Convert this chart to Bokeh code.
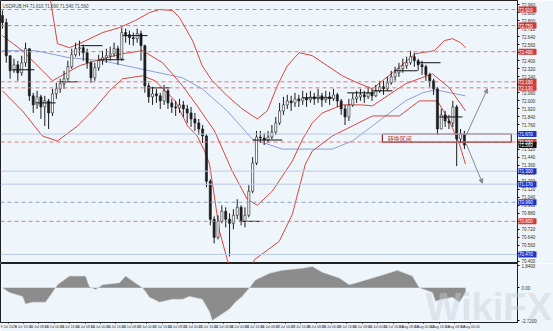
from bokeh.plotting import figure
from bokeh.models import (FixedTicker, Range1d, Span, Label, Arrow, NormalHead, GridBox,
                          ColumnDataSource, NumeralTickFormatter)
from bokeh.embed import file_html
from bokeh.resources import INLINE
from bokeh.core.properties import value

# ---------------- data ----------------
symbol_text = "USDRUB,H4  71.610 71.690 71.540 71.560"
first_open = 72.85
close = [72.78,72.45,72.30,72.36,72.28,72.38,72.52,72.05,71.96,72.04,
         71.94,72.00,71.88,72.07,72.12,72.17,72.22,72.34,72.46,72.52,
         72.53,72.48,72.38,72.23,72.33,72.40,72.43,72.45,72.47,72.52,
         72.42,72.68,72.66,72.63,72.62,72.67,72.55,72.15,72.04,72.07,
         72.05,72.00,72.10,71.98,71.94,71.93,71.96,71.92,71.88,71.82,
         71.78,71.72,71.65,71.20,70.82,70.64,70.80,70.90,70.82,70.78,
         70.86,70.94,70.80,70.86,71.10,71.38,71.64,71.63,71.61,71.64,
         71.69,71.78,71.90,71.96,72.00,71.98,72.02,72.00,72.03,72.01,
         72.04,72.02,72.05,72.01,72.04,72.02,72.06,72.00,71.92,71.84,
         71.96,72.02,72.04,72.06,72.04,72.08,72.05,72.10,72.14,72.12,
         72.18,72.24,72.28,72.32,72.35,72.38,72.44,72.40,72.36,72.34,
         72.26,72.20,72.12,71.72,71.86,71.80,71.78,71.94,71.62,71.67,
         71.56]
high = [72.90,72.82,72.45,72.42,72.40,72.45,72.58,72.52,72.08,72.10,
        72.06,72.05,72.02,72.12,72.18,72.22,72.30,72.40,72.52,72.58,
        72.60,72.56,72.52,72.40,72.38,72.46,72.50,72.52,72.54,72.58,
        72.55,72.73,72.72,72.70,72.68,72.72,72.70,72.56,72.18,72.14,
        72.12,72.08,72.16,72.12,72.02,72.00,72.02,72.00,71.96,71.94,
        71.88,71.82,71.76,71.67,71.22,70.85,70.86,70.96,70.94,70.88,
        70.92,71.02,70.96,70.94,71.16,71.44,71.70,71.70,71.68,71.70,
        71.76,71.84,71.98,72.04,72.06,72.05,72.08,72.06,72.10,72.08,
        72.10,72.08,72.12,72.08,72.10,72.09,72.12,72.08,72.02,71.96,
        72.02,72.08,72.10,72.12,72.10,72.14,72.12,72.16,72.20,72.20,
        72.24,72.30,72.34,72.38,72.42,72.44,72.50,72.48,72.42,72.40,
        72.36,72.28,72.22,72.14,71.92,71.90,71.86,72.00,71.96,71.72,
        71.70]
low = [72.72,72.38,72.22,72.28,72.20,72.25,72.34,72.00,71.88,71.92,
       71.82,71.75,71.72,71.85,72.02,72.08,72.12,72.20,72.32,72.44,
       72.45,72.40,72.32,72.18,72.20,72.30,72.36,72.38,72.40,72.44,
       72.36,72.40,72.58,72.56,72.55,72.58,72.40,72.08,71.98,71.96,
       71.98,71.92,71.96,71.92,71.88,71.85,71.88,71.84,71.78,71.74,
       71.70,71.66,71.58,71.14,70.76,70.58,70.62,70.78,70.74,70.45,
       70.72,70.82,70.76,70.74,70.84,71.08,71.36,71.58,71.56,71.58,
       71.62,71.66,71.76,71.86,71.92,71.90,71.94,71.94,71.96,71.94,
       71.98,71.96,71.98,71.94,71.98,71.96,72.00,71.94,71.86,71.76,
       71.80,71.94,71.98,72.00,71.98,72.02,72.00,72.04,72.08,72.06,
       72.10,72.16,72.20,72.24,72.28,72.32,72.36,72.34,72.30,72.26,
       72.20,72.14,72.06,71.66,71.76,71.74,71.72,71.74,71.35,71.58,
       71.52]

# Bollinger bands (red) and long moving average (blue), sampled at bar positions
upper_x = [0,10.4,12.5,14.3,17.4,20.0,26.0,30.4,34.5,38.2,40.8,44.2,46.0,49.4,51.9,54.5,58.4,
           62.3,66.2,68.8,71.4,74.0,77.1,80.5,84.4,88.3,92.2,96.1,101.3,107.3,112.2,114.8,116.9,119.0,120.3]
upper_y = [73.30,73.10,73.00,72.57,72.53,72.57,72.68,72.73,72.80,72.88,72.91,72.90,72.83,72.60,72.35,72.20,72.05,
           71.92,71.82,71.90,72.15,72.35,72.48,72.45,72.35,72.25,72.18,72.12,72.28,72.47,72.50,72.60,72.62,72.58,72.53]
mid_x = [0,5.2,10.4,13.0,20.0,26.0,31.2,36.4,41.6,46.8,50.6,55.1,59.7,63.6,66.2,70.1,75.3,78.0,80.5,83.1,88.3,
         93.5,96.1,104.7,111.7,116.1,120.3]
mid_y = [72.65,72.50,72.30,72.20,72.35,72.42,72.47,72.50,72.38,72.15,71.95,71.70,71.30,71.02,70.96,71.10,71.40,
         71.62,71.78,71.88,71.96,71.96,71.95,72.17,72.27,72.13,71.90]
lower_x = [0,5.2,10.4,14.3,19.5,23.4,27.8,31.2,36.4,39.7,44.9,48.1,50.6,52.5,53.8,56.4,58.4,61.0,63.6,65.5,
           71.9,75.3,78.7,80.5,85.7,90.9,96.1,103.1,108.3,113.0,116.1,118.7,120.3]
lower_y = [72.10,71.90,71.65,71.60,71.75,71.90,72.10,72.22,72.25,72.20,72.00,71.75,71.65,71.50,71.37,70.70,70.42,
           70.15,70.25,70.42,70.60,70.87,71.37,71.50,71.65,71.75,71.85,71.85,72.00,72.00,71.80,71.57,71.37]
ma_x = [0,8.6,17.4,26.0,34.5,46.8,51.9,58.4,64.9,72.7,85.7,90.9,96.1,104.7,109.1,112.5,120.3]
ma_y = [72.50,72.50,72.43,72.40,72.33,72.23,72.12,71.90,71.62,71.52,71.52,71.60,71.75,72.00,72.08,72.11,72.05]

# horizontal levels
red_levels = [72.91, 72.75, 72.49, 72.19, 72.13, 71.59, 70.80]
blue_levels = [71.67, 71.30, 71.17, 70.47]
grey_levels = [70.99]
blue_tags = [71.67, 71.30, 71.17, 70.99, 70.47]

# short black level segments
seg_x0 = [2.6, 8.6, 14.8, 20.3, 25.2, 31.2, 37.7, 61.6, 65.0, 78.0, 89.6, 96.0, 101.8, 107.8, 113.5]
seg_x1 = [8.3, 13.8, 19.5, 26.0, 31.7, 37.7, 43.4, 66.8, 72.7, 85.7, 96.6, 101.3, 107.8, 113.8, 119.5]
seg_y = [72.31, 71.98, 72.19, 72.55, 72.41, 72.65, 72.13, 70.80, 71.61, 72.03, 72.08, 72.10, 72.30, 72.38, 71.84]

zone_x = [98.7, 132.2]
zone_y = [71.59, 71.67]
zone_text = "转换区间"
arrow_start = [120.5, 71.66]
arrow_up_end = [126.0, 72.12]
arrow_down_start = [120.5, 71.57]
arrow_down_end = [124.7, 71.18]

# indicator (histogram area)
ind_x = [0,1.8,5.2,6.0,7.8,11.2,13.0,14.3,17.4,21.6,22.6,24.2,26.0,30.4,32.0,34.5,36.4,38.2,40.8,44.2,46.8,
         48.6,51.9,53.8,54.5,56.4,59.0,60.5,62.3,64.2,65.7,69.4,72.7,77.9,80.5,83.1,87.5,90.1,92.7,98.7,
         102.6,106.5,108.3,111.7,112.5,114.3,116.9,118.7,120.3]
ind_v = [0,-0.40,-0.72,-1.36,-1.20,-1.20,-0.40,0.24,0.96,0.96,0.08,-0.16,0.24,0.40,0.96,0.40,0,-0.80,-1.20,
         -0.96,-0.96,-0.72,-0.96,-2.00,-2.72,-2.32,-1.76,-1.20,-0.72,0,0.64,1.20,1.44,1.60,1.76,1.28,0.80,0.24,
         0.48,1.04,1.44,0.96,0,-0.40,-1.12,-0.96,-0.80,-1.20,-0.40]
ind_ticks = [1.84, 0.0, -2.72]
ind_tick_labels = ["1.8400", "0.00", "-2.7200"]

date_labels = ["9 Jul 2020", "9 Jul 16:00", "10 Jul 08:00", "13 Jul 00:00", "13 Jul 16:00",
               "14 Jul 08:00", "15 Jul 00:00", "15 Jul 16:00", "16 Jul 08:00", "17 Jul 00:00",
               "17 Jul 16:00", "20 Jul 08:00", "21 Jul 00:00", "21 Jul 16:00", "22 Jul 08:00",
               "23 Jul 00:00", "23 Jul 16:00", "24 Jul 08:00", "27 Jul 00:00", "27 Jul 16:00",
               "28 Jul 08:00", "29 Jul 00:00", "29 Jul 16:00", "30 Jul 08:00", "31 Jul 00:00",
               "31 Jul 16:00", "3 Aug 08:00", "4 Aug 00:00", "4 Aug 16:00", "5 Aug 08:00",
               "6 Aug 00:00"]
watermark = "WikiFX"

# ---------------- derived ----------------
n = len(close)
idx = list(range(n))
opens = [first_open] + close[:-1]
hi = [max(h, o, c) for h, o, c in zip(high, opens, close)]
lo = [min(l, o, c) for l, o, c in zip(low, opens, close)]
up = [c >= o for o, c in zip(opens, close)]
src = ColumnDataSource(dict(x=idx, o=opens, c=close, h=hi, l=lo,
                            top=[max(o, c) for o, c in zip(opens, close)],
                            bot=[min(o, c) for o, c in zip(opens, close)],
                            fill=["#ffffff" if u else "#1c1c1c" for u in up]))

BG = "#eef5fb"
XR = (-0.5, 133.8)
YR = (70.38, 73.00)
MAIN_H = 263
IND_H = 68
W = 553
FRAME_W = 517

p = figure(width=W, height=MAIN_H, x_range=Range1d(*XR), y_range=Range1d(*YR),
           output_backend="svg", toolbar_location=None, x_axis_location=None,
           y_axis_location="right", min_border_left=0, min_border_right=W - FRAME_W,
           min_border_top=0, min_border_bottom=0)
p.background_fill_color = BG
p.border_fill_color = BG
p.outline_line_color = "#222222"
p.xgrid.visible = False
p.ygrid.visible = False

ax = p.yaxis[0]
ax.ticker = FixedTicker(ticks=[round(70.40 + 0.08 * k, 2) for k in range(33)])
ax.formatter = NumeralTickFormatter(format="0.000")
ax.major_label_text_font_size = "4.5px"
ax.major_label_text_color = "#333333"
ax.major_tick_out = 2
ax.major_tick_in = 0
ax.minor_tick_line_color = None
ax.major_label_standoff = 2
ax.axis_line_color = "#222222"

for lv in red_levels:
    p.add_layout(Span(location=lv, dimension="width", line_color="#e07a7a",
                      line_dash="4 3", line_width=1))
for lv in blue_levels:
    p.add_layout(Span(location=lv, dimension="width", line_color="#b9c9e6", line_width=1))
for lv in grey_levels:
    p.add_layout(Span(location=lv, dimension="width", line_color="#8fa0c0",
                      line_dash="4 3", line_width=1))

p.line(ma_x, ma_y, line_color="#8e9fd6", line_width=1)
p.line(upper_x, upper_y, line_color="#d9463f", line_width=1)
p.line(mid_x, mid_y, line_color="#d9463f", line_width=1)
p.line(lower_x, lower_y, line_color="#d9463f", line_width=1)

p.segment(x0="x", y0="l", x1="x", y1="h", source=src, line_color="#1c1c1c", line_width=1)
p.vbar(x="x", width=0.55, top="top", bottom="bot", source=src, fill_color="fill",
       line_color="#1c1c1c", line_width=0.6)

p.segment(x0=seg_x0, y0=seg_y, x1=seg_x1, y1=seg_y, line_color="#111111", line_width=1)

p.quad(left=[zone_x[0]], right=[zone_x[1]], bottom=[zone_y[0]], top=[zone_y[1]],
       fill_alpha=0, line_color="#8b2b2b", line_width=1.2)
p.text(x=[zone_x[0] + 1.4], y=[(zone_y[0] + zone_y[1]) / 2], text=[zone_text],
       text_font=value("Noto Sans CJK SC"), text_font_size="6px", text_color="#b33a3a",
       text_baseline="middle")

head_style = dict(size=4, fill_color="#8a8a8a", line_color="#8a8a8a")
p.add_layout(Arrow(x_start=arrow_start[0], y_start=arrow_start[1], x_end=arrow_up_end[0],
                   y_end=arrow_up_end[1], line_color="#8a8a8a", line_width=1,
                   end=NormalHead(**head_style)))
p.add_layout(Arrow(x_start=arrow_down_start[0], y_start=arrow_down_start[1],
                   x_end=arrow_down_end[0], y_end=arrow_down_end[1], line_color="#8a8a8a",
                   line_width=1, end=NormalHead(**head_style)))

p.add_layout(Label(x=2, y=MAIN_H - 8, x_units="screen", y_units="screen", text=symbol_text,
                   text_font_size="4.5px", text_color="#444444"))

# ---------------- indicator panel ----------------
q = figure(width=W, height=IND_H, x_range=p.x_range, y_range=Range1d(-2.88, 2.0),
           output_backend="svg", toolbar_location=None, x_axis_location="below",
           y_axis_location="right", min_border_left=0, min_border_right=W - FRAME_W,
           min_border_top=0, min_border_bottom=7)
q.background_fill_color = BG
q.border_fill_color = BG
q.outline_line_color = "#222222"
q.xgrid.visible = False
q.ygrid.visible = False
q.varea(x=ind_x, y1=[0] * len(ind_x), y2=ind_v, fill_color="#8c8c8c")
q.line(ind_x, ind_v, line_color="#d8d8d8", line_width=0.6)

qa = q.yaxis[0]
qa.ticker = FixedTicker(ticks=ind_ticks)
qa.major_label_overrides = {t_: s for t_, s in zip(ind_ticks, ind_tick_labels)}
qa.major_label_text_font_size = "4.5px"
qa.major_label_text_color = "#333333"
qa.major_tick_out = 2
qa.major_tick_in = 0
qa.minor_tick_line_color = None
qa.major_label_standoff = 2
qa.axis_line_color = "#222222"

xa = q.xaxis[0]
tick_pos = [4 * k + 1.5 for k in range(len(date_labels))]
xa.ticker = FixedTicker(ticks=tick_pos)
xa.major_label_overrides = {t_: s for t_, s in zip(tick_pos, date_labels)}
xa.major_label_text_font_size = "3.6px"
xa.major_label_text_color = "#333333"
xa.major_tick_out = 1
xa.major_tick_in = 0
xa.minor_tick_line_color = None
xa.major_label_standoff = 1
xa.axis_line_color = "#222222"

# ---------------- transparent overlay: price tags on the axis + watermark ----------------
tag_levels = red_levels + blue_tags + [close[-1]]
tag_colors = ["#d23c3c"] * len(red_levels) + ["#2233cc"] * len(blue_tags) + ["#111111"]
total_h = MAIN_H + IND_H
y_lo = YR[0] - IND_H / MAIN_H * (YR[1] - YR[0])
t = figure(width=W, height=total_h, x_range=Range1d(0, W), y_range=Range1d(y_lo, YR[1]),
           output_backend="svg", toolbar_location=None, x_axis_location=None,
           y_axis_location=None, min_border=0)
t.frame_align = False
t.background_fill_alpha = 0
t.border_fill_alpha = 0
t.outline_line_color = None
t.xgrid.visible = False
t.ygrid.visible = False
t.rect(x=FRAME_W + 10, y=tag_levels, width=18, height=6, height_units="screen",
       fill_color=tag_colors, line_color=None)
t.text(x=FRAME_W + 1.5, y=tag_levels, text=[f"{v:.3f}" for v in tag_levels],
       text_font_size="4.5px", text_color="white", text_baseline="middle")
t.add_layout(Label(x=425, y=4, x_units="screen", y_units="screen", text=watermark,
                   text_font_size="38px", text_font_style="bold", text_color="#c9d0d6",
                   text_alpha=0.45))

layout = GridBox(children=[(p, 0, 0), (q, 1, 0), (t, 0, 0, 2, 1)], spacing=0)
open("out.html", "w").write(file_html(layout, INLINE))
